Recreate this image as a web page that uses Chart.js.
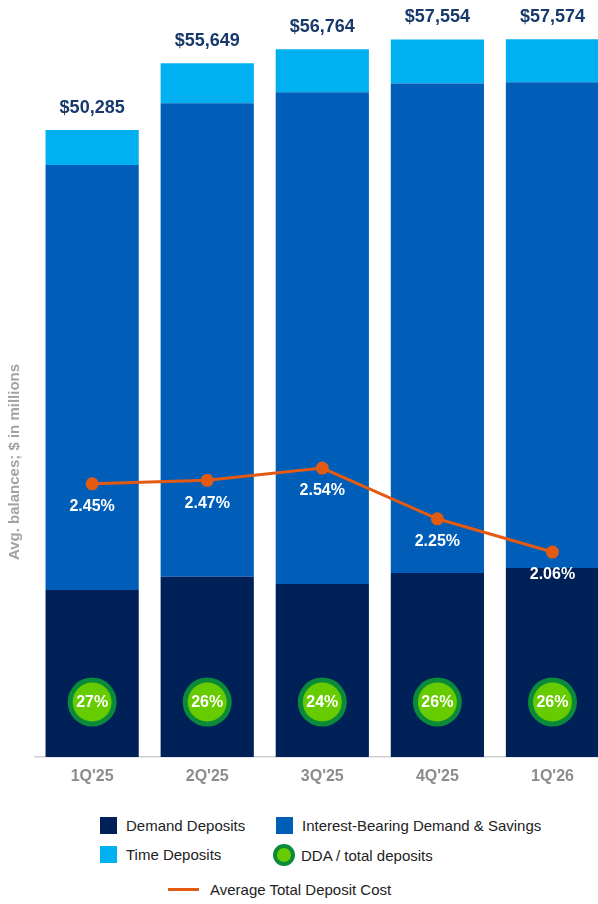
<!DOCTYPE html>
<html>
<head>
<meta charset="utf-8">
<script src="https://cdn.jsdelivr.net/npm/chart.js@4.4.1/dist/chart.umd.min.js"></script>
<style>
  html, body { margin: 0; padding: 0; background: #fff; overflow: hidden; width: 598px; height: 904px; }
  #wrap { position: absolute; top: 0; left: 0; width: 618px; height: 800px; }
  #legend { position: absolute; top: 800px; left: 0; width: 598px; height: 104px;
    font-family: "Liberation Sans", Arial, sans-serif; font-size: 15px; color: #222; }
  .item { position: absolute; display: flex; align-items: center; }
  .sw { width: 17px; height: 17px; margin-right: 9px; }
  .dot { width: 22px; height: 22px; border-radius: 50%; background: #66cc00; border: 4px solid #0b8a3a; box-sizing: border-box; margin-right: 6px; margin-left: -3px; }
  .ln { width: 31px; height: 3px; background: #e35a12; margin-right: 11px; }
</style>
</head>
<body>
<div id="wrap"><canvas id="chart" width="618" height="800"></canvas></div>
<div id="legend">
  <div class="item" style="left:100px; top:17px;"><div class="sw" style="background:#002157"></div>Demand Deposits</div>
  <div class="item" style="left:276px; top:17px;"><div class="sw" style="background:#005eb8"></div>Interest-Bearing Demand &amp; Savings</div>
  <div class="item" style="left:100px; top:46px;"><div class="sw" style="background:#00b0f0"></div>Time Deposits</div>
  <div class="item" style="left:276px; top:44px;"><div class="dot"></div>DDA / total deposits</div>
  <div class="item" style="left:168px; top:81px;"><div class="ln"></div>Average Total Deposit Cost</div>
</div>
<script>
const quarters = ["1Q'25", "2Q'25", "3Q'25", "4Q'25", "1Q'26"];
const demandDeposits = [13400, 14450, 13870, 14760, 15160];
const interestBearing = [34085, 37989, 39444, 39264, 38964];
const timeDeposits = [2800, 3210, 3450, 3530, 3450];
const totalDeposits = [50285, 55649, 56764, 57554, 57574];
const depositCost = [2.45, 2.47, 2.54, 2.25, 2.06];
const ddaShare = [27, 26, 24, 26, 26];

const labelFont = '"Liberation Sans", Arial, sans-serif';

// totals above bars, cost labels under the line points, DDA badges in the dark segment
const annotate = {
  id: 'annotate',
  afterDatasetsDraw(c) {
    const ctx = c.ctx;
    const x = c.scales.x;
    const y = c.scales.y;
    ctx.save();
    ctx.textAlign = 'center';
    ctx.textBaseline = 'middle';

    const top = c.getDatasetMeta(2);
    top.data.forEach((bar, i) => {
      ctx.fillStyle = '#173a6a';
      ctx.font = 'bold 18px ' + labelFont;
      ctx.fillText('$' + totalDeposits[i].toLocaleString('en-US'), bar.x, bar.y - 22);
    });

    const line = c.getDatasetMeta(3);
    line.data.forEach((pt, i) => {
      ctx.fillStyle = '#ffffff';
      ctx.font = 'bold 16px ' + labelFont;
      ctx.fillText(depositCost[i].toFixed(2) + '%', pt.x, pt.y + 23);
    });

    ddaShare.forEach((v, i) => {
      const cx = x.getPixelForValue(i);
      const cy = y.bottom - 55;
      ctx.beginPath();
      ctx.arc(cx, cy, 24.5, 0, Math.PI * 2);
      ctx.fillStyle = '#0b8a3a';
      ctx.fill();
      ctx.beginPath();
      ctx.arc(cx, cy, 19.5, 0, Math.PI * 2);
      ctx.fillStyle = '#66cc00';
      ctx.fill();
      ctx.fillStyle = '#ffffff';
      ctx.font = 'bold 16px ' + labelFont;
      ctx.fillText(v + '%', cx, cy + 1);
    });

    // axis title, sits lower than the plot centre in the original
    ctx.translate(15, 462);
    ctx.rotate(-Math.PI / 2);
    ctx.fillStyle = '#a3a3a3';
    ctx.font = 'bold 15px ' + labelFont;
    ctx.fillText('Avg. balances; $ in millions', 0, 0);
    ctx.restore();
  }
};

const ctx = document.getElementById('chart').getContext('2d');
new Chart(ctx, {
  data: {
    labels: quarters,
    datasets: [
      { type: 'bar', label: 'Demand Deposits', data: demandDeposits, backgroundColor: '#002157', stack: 's', order: 2 },
      { type: 'bar', label: 'Interest-Bearing Demand & Savings', data: interestBearing, backgroundColor: '#005eb8', stack: 's', order: 2 },
      { type: 'bar', label: 'Time Deposits', data: timeDeposits, backgroundColor: '#00b0f0', stack: 's', order: 2 },
      { type: 'line', label: 'Average Total Deposit Cost', data: depositCost, yAxisID: 'y2',
        borderColor: '#e35a12', backgroundColor: '#e35a12', borderWidth: 3,
        pointRadius: 5, pointHoverRadius: 5, order: 1 }
    ]
  },
  options: {
    responsive: false,
    animation: false,
    layout: { padding: { top: 9, left: 0, right: 0, bottom: 0 } },
    datasets: { bar: { barPercentage: 0.81, categoryPercentage: 1 } },
    plugins: { legend: { display: false }, tooltip: { enabled: false } },
    scales: {
      x: {
        stacked: true,
        grid: { display: false, drawTicks: false },
        border: { display: true, color: '#d0d0d0', width: 1.5 },
        ticks: { color: '#8c8c8c', font: { family: labelFont, size: 16, weight: 'bold' }, padding: 10 },
        afterFit: s => { s.height = 43; s.paddingLeft = 0; s.paddingRight = 0; }
      },
      y: {
        stacked: true,
        min: 0,
        max: 60000,
        grid: { display: false },
        border: { display: false },
        ticks: { display: false },
        afterFit: s => { s.width = 34.6; }
      },
      y2: {
        display: false,
        min: 0.889,
        max: 5.163
      }
    }
  },
  plugins: [annotate]
});
</script>
</body>
</html>
